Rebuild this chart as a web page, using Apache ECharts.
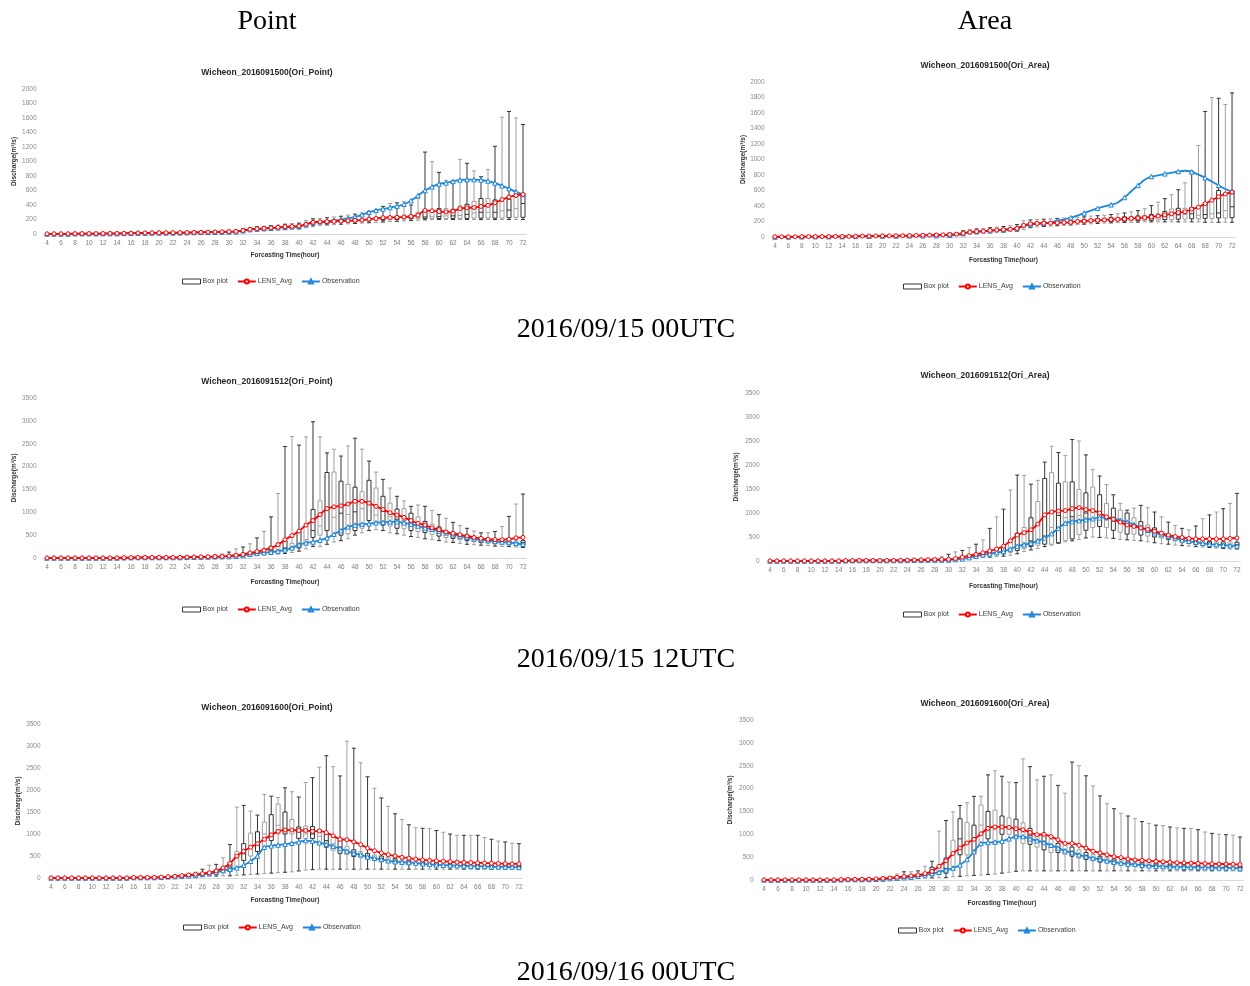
<!DOCTYPE html>
<html>
<head>
<meta charset="utf-8">
<script src="https://cdn.jsdelivr.net/npm/echarts@6/dist/echarts.min.js"></script>
<style>
  html, body { margin: 0; padding: 0; background: #fff; }
  #chart { width: 1250px; height: 986px; }
</style>
</head>
<body>
<div id="chart"></div>
<script>
// forecast hours (categories)
var hours = [4,5,6,7,8,9,10,11,12,13,14,15,16,17,18,19,20,21,22,23,24,25,26,27,28,29,30,31,32,33,34,35,36,37,38,
  39,40,41,42,43,44,45,46,47,48,49,50,51,52,53,54,55,56,57,58,59,60,61,62,63,64,65,66,67,68,69,70,71,72];

// Wicheon_2016091500(Ori_Point)
var p1Obs = [0,0,0,0,5,5,5,5,5,5,5,8,10,12,12,14,15,15,15,16,18,20,22,24,25,26,28,30, 45,60,70,75,80,88,95,100,105,130, 160,168,175,185,200,215,235,265,300,325, 345,365,385,410,460,530,600,650,690,705, 725,745,750,750,745,730,705,665,625,580, 545];
var p1Avg = [2,3,3,3,5,6,6,6,7,8,8,10,12,14,15,16,17,17,18,19,20,22,24,26,28,30,33,36, 48,65,72,78,85,92,100,105,110,135, 162,168,170,175,178,182,188,192,205,215, 225,228,230,235,245,260,325,320,310,305, 315,350,360,365,380,395,430,475,510,530, 545];
var p1Min = [0,0,0,0,1,1,1,1,2,2,2,3,4,5,6,6,7,7,8,8,9,10,11,12,13,14,16,18, 25,35,40,45,50,55,60,65,70,85, 110,120,125,130,135,140,145,150,155,160, 165,170,175,180,185,190,195,200,200,200, 200,200,200,200,200,200,200,200,200,200, 200];
var p1Q1  = [1,1,1,1,3,3,3,4,4,5,5,6,8,9,10,11,12,12,13,14,15,16,17,19,20,22,24,26, 35,50,58,62,68,74,80,85,90,110, 140,150,155,160,162,165,170,175,180,185, 190,195,200,205,210,210,215,215,215,215, 215,215,215,220,220,220,220,220,225,230, 230];
var p1Med = [2,2,2,2,4,5,5,5,6,7,7,8,10,12,13,14,15,15,16,17,18,20,22,24,26,28,30,33, 45,60,68,73,80,87,95,100,105,130, 155,162,165,170,172,175,180,185,190,200, 205,210,215,220,225,230,235,240,240,250, 250,255,270,290,300,300,300,320,330,350, 420];
var p1Q3  = [3,4,4,4,6,7,7,8,9,10,10,12,14,16,17,18,19,20,21,22,23,25,27,30,32,35,38,42, 55,72,80,85,92,100,108,115,120,150, 175,180,185,190,195,200,205,210,215,225, 230,240,245,250,255,300,330,330,350,350, 340,390,410,450,490,490,470,450,480,520, 560];
var p1Max = [4,5,5,5,8,9,9,10,12,13,13,15,18,20,22,23,24,25,27,28,30,32,35,38,42,46,50,55, 70,90,100,108,115,125,135,145,150,185, 210,215,225,235,245,260,275,290,310,330, 380,420,430,450,400,490,1130,1000,850,740, 730,1030,975,870,790,890,1210,1610,1690,1600, 1510];

// Wicheon_2016091500(Ori_Area)
var p2Obs = [0,0,0,0,3,4,4,4,4,5,5,5,8,10,10,12,12,12,13,14,15,15,16,17,18,20,22,24, 43,58,70,72,80,85,92,100,110,140, 160,168,175,190,210,225,250,275,310,340, 370,395,415,445,510,590,665,740,780,795, 815,830,845,855,840,805,765,715,665,620, 585];
var p2Avg = [3,3,3,3,5,6,6,6,6,7,7,8,10,12,12,14,14,15,16,17,18,20,22,24,26,28,32,36, 50,62,70,75,85,90,95,100,110,150, 170,175,178,180,183,186,190,200,205,212, 215,220,225,228,232,240,245,250,258,270, 285,300,315,325,360,385,430,475,520,555, 580];
var p2Min = [0,0,0,0,1,1,1,1,2,2,2,3,4,5,5,6,6,7,7,8,9,10,11,12,13,14,16,18, 25,35,42,48,55,60,65,70,75,95, 120,130,135,140,145,150,155,160,165,170, 175,180,182,185,188,190,192,195,195,195, 195,195,195,195,195,195,190,190,190,190, 190];
var p2Q1  = [1,1,1,1,3,3,3,4,4,5,5,6,8,9,9,11,11,12,13,14,15,16,17,19,20,22,24,27, 38,50,58,63,70,76,82,88,92,120, 150,158,162,165,170,172,175,180,185,190, 195,200,200,205,205,210,210,215,215,220, 225,225,230,230,235,235,240,240,245,245, 250];
var p2Med = [2,2,2,2,4,5,5,5,6,7,7,8,10,12,12,14,14,15,16,17,18,20,22,24,26,28,31,35, 48,60,68,74,82,88,94,100,108,145, 165,172,176,178,182,185,188,195,200,208, 212,216,220,225,228,232,236,240,245,255, 265,275,285,290,300,280,290,300,310,340, 390];
var p2Q3  = [3,4,4,4,6,7,7,8,9,10,10,12,14,16,16,18,18,20,21,22,23,25,27,30,32,35,39,44, 60,72,80,86,95,102,108,115,125,170, 185,190,195,198,202,205,210,218,225,232, 238,244,250,255,260,265,272,280,290,300, 330,360,370,370,380,390,440,480,600,560, 600];
var p2Max = [4,5,5,5,8,9,9,10,12,13,13,15,18,20,20,23,23,25,27,28,30,32,35,38,42,46,52,58, 80,95,105,112,120,128,135,145,160,210, 220,225,230,235,240,245,250,255,260,270, 275,280,290,300,310,325,340,365,405,450, 495,545,610,700,850,1180,1620,1800,1790,1710, 1860];

// Wicheon_2016091512(Ori_Point)
var p3Obs = [0,0,0,0,0,0,0,0,0,0,0,5,8,10,10,10,10,10,10,10,15,18,20,22,25,28,30,40,55,80,100,115,130,150, 180,220,290,330,350,390,440,520,600,680,720,740,750,770,780,790,790,770,740,700,660,630,590,550,510,480,450,420,400,380,360,350,340,320,300];
var p3Avg = [2,2,2,2,2,2,2,2,2,3,3,8,10,12,12,12,12,12,12,14,20,22,25,28,30,35,45,60,80,110,140,170,220,290, 400,490,590,720,820,950,1080,1120,1140,1180,1240,1240,1200,1130,1060,990,940,890,820,760,720,660,620,570,540,510,480,450,430,410,400,400,410,440,450];
var p3Min = [0,0,0,0,0,0,0,0,0,0,0,2,3,4,4,4,4,4,4,5,8,10,12,13,15,18,20,25,35,45,55,65,75,85, 100,120,150,200,250,250,300,350,380,420,500,550,600,620,600,550,530,500,470,450,420,400,380,350,340,320,300,290,280,270,260,250,250,240,230];
var p3Q1  = [1,1,1,1,1,1,1,1,1,1,1,4,6,7,7,7,7,7,8,9,12,14,16,18,20,24,28,35,48,65,80,95,110,130, 150,180,220,300,450,500,600,520,500,530,600,650,820,800,720,700,650,640,600,580,560,520,480,450,430,400,380,360,340,330,320,310,300,290,280];
var p3Med = [2,2,2,2,2,2,2,2,2,2,2,6,8,10,10,10,10,10,11,12,16,18,20,23,26,30,36,45,62,85,110,130,155,185, 220,250,300,400,600,700,1100,890,980,950,1010,1080,1180,940,1020,900,850,820,760,720,680,640,600,560,510,480,450,420,400,380,360,350,340,340,340];
var p3Q3  = [3,3,3,3,3,3,3,3,3,3,3,8,11,13,13,13,13,13,15,17,22,25,28,32,36,42,50,65,90,120,160,200,250,330, 380,320,580,700,1060,1250,1870,1880,1680,1610,1550,1450,1700,1530,1350,1200,1070,1080,980,900,800,740,680,600,560,530,510,460,430,410,390,380,380,380,380];
var p3Max = [5,5,5,5,5,5,5,5,5,5,5,12,15,18,18,18,18,18,22,25,32,38,45,55,65,85,130,200,240,310,440,580,900,1410, 2440,2660,2470,2650,2980,2650,2300,2380,2230,2450,2620,2380,2120,1880,1720,1530,1350,1250,1130,1160,1130,1040,950,870,780,710,650,590,550,550,580,690,910,1180,1400];

// Wicheon_2016091512(Ori_Area)
var p4Obs = [0,0,0,0,0,0,0,0,0,0,0,5,8,10,10,10,10,10,10,10,12,15,18,20,20,20,20,30,45,70,100,130,150,175, 200,250,310,340,370,420,480,570,680,790,820,840,860,880,900,910,880,850,810,760,700,640,590,550,510,480,440,410,390,370,350,340,330,320,310];
var p4Avg = [2,2,2,2,2,2,2,2,2,2,2,8,10,12,12,12,12,12,12,14,18,22,25,28,30,32,35,50,80,110,140,170,210,250, 310,420,540,590,650,770,960,1020,1040,1050,1090,1110,1070,1050,1000,920,870,810,750,720,690,660,620,580,540,510,490,470,460,460,460,460,460,470,480];
var p4Min = [0,0,0,0,0,0,0,0,0,0,0,2,3,4,4,4,4,4,5,6,8,10,12,13,15,16,18,22,30,45,60,70,80,90, 100,120,150,200,230,260,300,330,370,400,420,450,480,500,490,480,470,450,440,430,420,400,380,360,350,330,320,310,300,290,280,270,260,250,250];
var p4Q1  = [1,1,1,1,1,1,1,1,1,1,1,4,6,7,7,7,7,7,8,10,12,14,16,17,18,20,24,32,45,62,85,105,120,135, 150,180,220,260,300,330,350,350,380,430,460,550,640,700,720,700,640,600,560,560,540,520,500,480,450,420,400,380,360,350,340,330,320,310,300];
var p4Med = [2,2,2,2,2,2,2,2,2,2,2,6,8,10,10,10,10,10,12,14,17,20,22,24,25,28,34,45,60,80,110,130,150,165, 180,200,280,380,420,450,520,700,950,900,920,950,1000,850,900,850,830,800,760,720,680,640,600,560,500,470,450,430,400,380,370,360,350,350,340];
var p4Q3  = [3,3,3,3,3,3,3,3,3,3,3,8,11,13,13,13,13,13,16,19,22,26,28,31,33,40,50,65,90,120,150,180,220,250, 280,420,580,700,900,1240,1720,1840,1620,1650,1650,1490,1420,1540,1380,1200,1100,1060,1000,900,820,750,690,610,560,530,510,480,450,430,410,400,400,400,390];
var p4Max = [5,5,5,5,5,5,5,5,5,5,5,12,15,18,18,18,18,18,20,25,30,35,40,45,55,90,140,190,220,280,350,440,680,920, 1080,1480,1790,1780,1600,1680,2060,2390,2260,2200,2530,2500,2210,1910,1770,1590,1380,1200,1060,1100,1160,1110,1020,920,810,740,680,650,730,880,960,1020,1090,1200,1410];

// Wicheon_2016091600(Ori_Point)
var p5Obs = [0,0,0,0,0,0,0,0,0,0,0,0,10,10,10,10,15,25,30,40,50,60,80,100,130,170, 200,230,290,380,500,700,730,750,770,790, 820,850,840,800,770,720,670,610,560,530, 480,450,420,390,370,360,350,340,320,310, 300,290,285,280,275,270,265,260,255,255, 250,250,240];
var p5Avg = [2,2,2,2,2,2,2,2,2,2,2,2,12,12,12,15,20,30,40,55,70,85,100,120,160,230, 330,500,610,700,780,880,980,1060,1090,1090, 1080,1080,1060,1070,1030,960,880,870,820,760, 680,620,570,530,500,470,450,430,410,400, 390,380,370,360,355,350,345,340,335,330, 325,320,320];
var p5Min = [0,0,0,0,0,0,0,0,0,0,0,0,4,4,5,5,8,12,15,20,25,30,35,40,45,48, 50,60,70,80,90,100,110,120,130,140, 160,180,190,200,200,200,200,200,200,200, 200,200,200,200,200,200,200,200,200,200, 200,200,200,200,200,200,200,200,200,200, 200,200,200];
var p5Q1  = [1,1,1,1,1,1,1,1,1,1,1,1,7,7,8,9,12,20,25,32,40,50,65,80,100,120, 150,250,400,500,600,700,850,1000,1000,1000, 900,900,900,780,700,630,560,530,490,460, 430,400,380,360,340,330,310,300,290,280, 275,270,265,260,255,250,250,245,240,240, 235,235,230];
var p5Med = [2,2,2,2,2,2,2,2,2,2,2,2,10,10,11,12,17,27,33,42,52,65,85,105,135,170, 250,450,550,700,800,1000,1000,1200,1100,1100, 1050,1000,1000,950,850,780,700,620,570,530, 490,460,440,410,390,370,355,340,330,320, 310,300,295,290,285,280,280,275,270,270, 265,265,260];
var p5Q3  = [4,4,4,4,4,4,4,4,4,4,4,4,13,13,15,16,22,34,42,55,70,85,110,140,180,230, 350,600,780,1020,1050,1270,1440,1680,1500,1330, 1160,1180,1170,1100,1000,920,860,720,640,600, 560,520,500,470,440,420,400,380,370,360, 350,340,330,320,320,310,310,300,300,300, 300,290,290];
var p5Max = [6,6,6,6,6,6,6,6,6,6,6,6,18,18,20,22,30,45,55,70,90,130,200,290,310,460, 760,1610,1650,1520,1430,1900,1860,1830,2050,1960, 1840,2170,2280,2520,2780,2530,2320,3110,2950,2620, 2300,2040,1820,1630,1460,1330,1210,1140,1130,1120, 1080,1040,1000,970,970,970,970,920,880,840, 820,790,780];

// Wicheon_2016091600(Ori_Area)
var p6Obs = [0,0,0,0,0,0,0,0,0,0,0,5,10,10,10,10,15,20,30,40,50,60,80,110,140,170, 220,260,330,450,620,800,820,830,850,900, 950,950,900,860,820,760,700,640,600,550, 510,480,450,420,390,370,350,340,320,310, 300,295,290,285,280,275,275,270,270,265, 265,265,250];
var p6Avg = [3,3,3,3,3,3,3,3,3,3,3,10,12,14,16,18,25,35,45,60,75,90,110,140,190,300, 420,580,700,810,890,1010,1130,1160,1160,1150, 1120,1100,1040,990,1000,950,880,800,800,760, 700,630,590,550,510,490,460,440,430,420, 410,400,390,380,375,370,365,360,355,350, 350,345,340];
var p6Min = [0,0,0,0,0,0,0,0,0,0,0,2,4,4,4,5,8,12,15,20,25,30,35,40,45,48, 50,70,80,90,100,110,120,130,150,170, 190,200,200,200,200,200,200,200,200,200, 200,200,200,200,200,200,200,200,200,200, 200,200,200,200,200,200,200,200,200,200, 200,200,200];
var p6Q1  = [1,1,1,1,1,1,1,1,1,1,1,4,7,7,8,9,13,20,26,34,42,52,65,85,110,140, 150,300,550,550,600,800,900,780,1000,1000, 950,800,780,720,660,600,600,560,520,480, 450,420,390,370,350,330,320,310,300,290, 285,280,275,270,265,260,260,255,255,250, 250,250,245];
var p6Med = [2,2,2,2,2,2,2,2,2,2,2,6,10,10,11,12,18,28,36,46,58,70,90,115,150,200, 250,600,900,800,900,1200,1100,1100,1150,1150, 1100,1050,980,880,830,760,700,660,620,570, 530,490,460,430,410,390,370,360,345,335, 325,320,310,305,300,295,295,290,285,285, 280,280,275];
var p6Q3  = [4,4,4,4,4,4,4,4,4,4,4,8,13,13,14,16,24,36,48,60,75,90,115,150,280,300, 480,870,1340,1260,1200,1640,1500,1530,1400,1360, 1330,1250,1130,1010,990,890,800,780,720,660, 600,560,520,490,460,440,420,400,390,380, 370,360,350,345,340,335,330,325,320,320, 315,315,310];
var p6Max = [6,6,6,6,6,6,6,6,6,6,6,12,18,18,20,22,32,50,70,130,180,180,200,300,410,1070, 1300,1490,1630,1690,1830,1830,2300,2390,2270,2140, 2130,2650,2480,2190,2270,2300,2070,1900,2580,2500, 2280,2060,1840,1670,1560,1460,1400,1340,1280,1240, 1200,1190,1160,1140,1130,1130,1100,1050,1020,1000, 990,980,940];

var legendNames = ['Box plot', 'LENS_Avg', 'Observation'];

// panel layout (page pixels)
var panels = [
  {title:'Wicheon_2016091500(Ori_Point)', s:[p1Min,p1Q1,p1Med,p1Q3,p1Max,p1Avg,p1Obs], left:43.5, width:483, top:89, height:145, max:2000, step:200, tx:267, ty:73, yGap:26, xGap:18, lx:177, ly:278},
  {title:'Wicheon_2016091500(Ori_Area)', s:[p2Min,p2Q1,p2Med,p2Q3,p2Max,p2Avg,p2Obs], left:771.6, width:463.8, top:82, height:155, max:2000, step:200, tx:985, ty:66, yGap:25, xGap:19.5, lx:898, ly:283},
  {title:'Wicheon_2016091512(Ori_Point)', s:[p3Min,p3Q1,p3Med,p3Q3,p3Max,p3Avg,p3Obs], left:43.5, width:483, top:398, height:160, max:3500, step:500, tx:267, ty:382, yGap:26, xGap:20.5, lx:177, ly:606},
  {title:'Wicheon_2016091512(Ori_Area)', s:[p4Min,p4Q1,p4Med,p4Q3,p4Max,p4Avg,p4Obs], left:766.6, width:473.8, top:393, height:168, max:3500, step:500, tx:985, ty:376, yGap:27, xGap:21.5, lx:898, ly:611},
  {title:'Wicheon_2016091600(Ori_Point)', s:[p5Min,p5Q1,p5Med,p5Q3,p5Max,p5Avg,p5Obs], left:47.6, width:474.8, top:724, height:154, max:3500, step:500, tx:267, ty:708, yGap:26, xGap:18.5, lx:178, ly:924},
  {title:'Wicheon_2016091600(Ori_Area)', s:[p6Min,p6Q1,p6Med,p6Q3,p6Max,p6Avg,p6Obs], left:760.5, width:483, top:720, height:160, max:3500, step:500, tx:985, ty:704, yGap:27, xGap:19.5, lx:893, ly:927}
];

panels.forEach(function(p, k) {
  p.s.forEach(function(a, j) {
    if (a.length !== hours.length) throw new Error('panel ' + (k + 1) + ' array ' + j + ' has ' + a.length);
  });
});

var chart = echarts.init(document.getElementById('chart'));
var font = 'Liberation Sans';
var red = '#ff0000', blue = '#1f87d6';

var grids = [], xAxes = [], yAxes = [], series = [], legends = [];
var texts = [
  {type:'text', x:267, y:22, style:{text:'Point', font:'28px "Liberation Serif"', fill:'#000', textAlign:'center', textVerticalAlign:'middle'}},
  {type:'text', x:985, y:22, style:{text:'Area', font:'28px "Liberation Serif"', fill:'#000', textAlign:'center', textVerticalAlign:'middle'}},
  {type:'text', x:626, y:330, style:{text:'2016/09/15 00UTC', font:'28px "Liberation Serif"', fill:'#000', textAlign:'center', textVerticalAlign:'middle'}},
  {type:'text', x:626, y:660, style:{text:'2016/09/15 12UTC', font:'28px "Liberation Serif"', fill:'#000', textAlign:'center', textVerticalAlign:'middle'}},
  {type:'text', x:626, y:973, style:{text:'2016/09/16 00UTC', font:'28px "Liberation Serif"', fill:'#000', textAlign:'center', textVerticalAlign:'middle'}}
];

panels.forEach(function(p, i) {
  grids.push({left:p.left, top:p.top, width:p.width, height:p.height});
  xAxes.push({
    type:'category', gridIndex:i, data:hours, boundaryGap:true,
    name:'Forcasting Time(hour)', nameLocation:'middle', nameGap:p.xGap,
    nameTextStyle:{fontFamily:font, fontSize:6.5, fontWeight:'bold', color:'#333'},
    axisLine:{lineStyle:{color:'#d9d9d9', width:1}},
    axisTick:{show:false},
    axisLabel:{interval:1, fontFamily:font, fontSize:6.5, color:'#7f7f7f', margin:6}
  });
  yAxes.push({
    type:'value', gridIndex:i, min:0, max:p.max, interval:p.step,
    name:'Discharge(m³/s)', nameLocation:'middle', nameGap:p.yGap, nameRotate:90,
    nameTextStyle:{fontFamily:font, fontSize:6.5, fontWeight:'bold', color:'#333'},
    axisLine:{show:false}, axisTick:{show:false}, splitLine:{show:false},
    axisLabel:{fontFamily:font, fontSize:6.5, color:'#8c8c8c', margin:7,
      formatter:function(v) { return String(v); }}
  });

  var boxData = hours.map(function(h, j) {
    return {
      value:[p.s[0][j], p.s[1][j], p.s[2][j], p.s[3][j], p.s[4][j]],
      itemStyle:{borderColor: j % 2 ? '#a0a0a0' : '#333'}
    };
  });
  series.push({
    name:'Box plot', type:'boxplot', xAxisIndex:i, yAxisIndex:i, z:2,
    boxWidth:[4, 4], data:boxData,
    itemStyle:{color:'#fff', borderColor:'#333', borderWidth:1}
  });
  series.push({
    name:'LENS_Avg', type:'line', xAxisIndex:i, yAxisIndex:i, z:4, data:p.s[5],
    smooth:0.3, symbol:'circle', symbolSize:4,
    lineStyle:{color:red, width:1.8},
    itemStyle:{color:'#fff', borderColor:red, borderWidth:1}
  });
  series.push({
    name:'Observation', type:'line', xAxisIndex:i, yAxisIndex:i, z:3, data:p.s[6],
    smooth:0.3, symbol:'triangle', symbolSize:4.5,
    lineStyle:{color:blue, width:1.8},
    itemStyle:{color:'#fff', borderColor:blue, borderWidth:1}
  });
  legends.push({
    left:p.lx, top:p.ly - 5, itemWidth:18, itemHeight:5, itemGap:9,
    textStyle:{fontFamily:font, fontSize:7, color:'#404040', padding:[0,0,0,-3]},
    data:[
      {name:legendNames[0], icon:'rect', itemStyle:{color:'#fff', borderColor:'#333', borderWidth:1}},
      legendNames[1], legendNames[2]
    ]
  });
  texts.push({type:'text', x:p.tx, y:p.ty, style:{text:p.title, font:'bold 8.5px "' + font + '"', fill:'#262626', textAlign:'center', textVerticalAlign:'middle'}});
});

chart.setOption({
  animation:false,
  backgroundColor:'#fff',
  grid:grids,
  xAxis:xAxes,
  yAxis:yAxes,
  legend:legends,
  series:series,
  graphic:texts
});
</script>
</body>
</html>
